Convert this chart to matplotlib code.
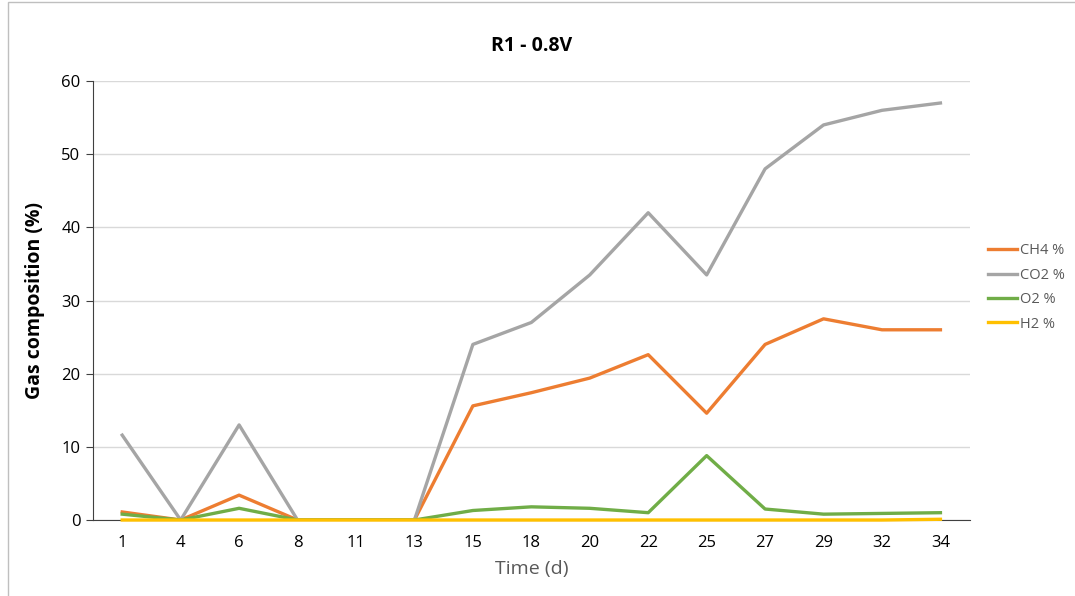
import matplotlib.pyplot as plt
from matplotlib.patches import Rectangle

# Dias de mostraxe (eixo categórico)
days = ['1', '4', '6', '8', '11', '13', '15', '18', '20', '22', '25', '27', '29', '32', '34']

# Composición do gas (%)
ch4 = [1.1, 0, 3.4, 0, 0, 0, 15.6, 17.4, 19.4, 22.6, 14.6, 24.0, 27.5, 26.0, 26.0]
co2 = [11.6, 0, 13.0, 0, 0, 0, 24.0, 27.0, 33.5, 42.0, 33.5, 48.0, 54.0, 56.0, 57.0]
o2 = [0.8, 0, 1.6, 0, 0, 0, 1.3, 1.8, 1.6, 1.0, 8.8, 1.5, 0.8, 0.9, 1.0]
h2 = [0, 0, 0, 0, 0, 0, 0, 0, 0, 0, 0, 0, 0, 0, 0.1]

plt.rcParams['font.family'] = ['Open Sans', 'DejaVu Sans']

fig = plt.figure(figsize=(10.75, 5.96), dpi=100)
ax = fig.add_axes([0.0865, 0.1275, 0.8155, 0.7365])

x = range(len(days))
ax.plot(x, ch4, color='#ED7D31', lw=2.4, label='CH4 %', zorder=3)
ax.plot(x, co2, color='#A5A5A5', lw=2.4, label='CO2 %', zorder=3)
ax.plot(x, o2, color='#70AD47', lw=2.4, label='O2 %', zorder=3)
ax.plot(x, h2, color='#FFC000', lw=2.4, label='H2 %', zorder=4, clip_on=False)

ax.set_xlim(-0.5, len(days) - 0.5)
ax.set_ylim(0, 60)
ax.set_yticks(range(0, 61, 10))
ax.set_xticks(list(x))
ax.set_xticklabels(days)
ax.grid(axis='y', color='#D9D9D9', lw=1)
ax.set_axisbelow(True)

for s in ['top', 'right']:
    ax.spines[s].set_visible(False)
ax.spines['left'].set_color('#404040')
ax.spines['bottom'].set_color('#404040')
ax.tick_params(axis='y', length=5, color='#404040', labelsize=12, pad=4)
ax.tick_params(axis='x', length=0, labelsize=12, pad=11)

ax.set_title('R1 - 0.8V', fontsize=14, fontweight='bold', pad=22)
ax.set_ylabel('Gas composition (%)', fontsize=14, fontweight='bold', labelpad=12)
ax.set_xlabel('Time (d)', fontsize=14, color='#595959', labelpad=6)

ax.legend(loc='center left', bbox_to_anchor=(1.008, 0.53), frameon=False,
          fontsize=10.5, handlelength=2.0, handletextpad=0.2, borderaxespad=0.4,
          labelspacing=0.65, labelcolor='#595959')

# Marco do gráfico
fig.patches.append(Rectangle((0.0075, -0.01), 1.0, 1.0065, transform=fig.transFigure,
                             fill=False, edgecolor='#BFBFBF', lw=1))

fig.savefig('out.png', dpi=100)
